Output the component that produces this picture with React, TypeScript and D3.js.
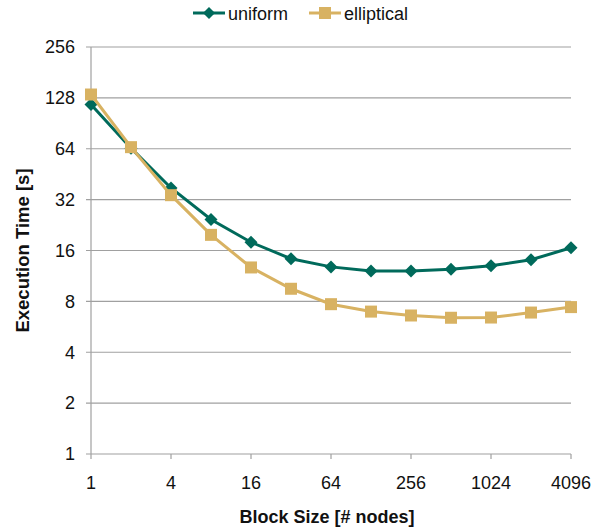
import * as d3 from "d3";

const blockSizes = [1, 2, 4, 8, 16, 32, 64, 128, 256, 512, 1024, 2048, 4096];
const uniform = [117, 64.5, 37.5, 24.4, 17.9, 14.3, 12.8, 12.1, 12.1, 12.4, 13, 14.1, 16.6];
const elliptical = [134, 65.4, 34, 19.8, 12.7, 9.5, 7.7, 6.96, 6.6, 6.4, 6.42, 6.87, 7.4];
const xTicks = [1, 4, 16, 64, 256, 1024, 4096];
const yTicks = [1, 2, 4, 8, 16, 32, 64, 128, 256];

const W = 593;
const H = 531;
const MARGIN = { top: 47, right: 22, bottom: 77, left: 91 };
const GREEN = "#006a5b";
const GOLD = "#d8b262";
const FONT = "'Liberation Sans', Arial, sans-serif";

export default function App() {
  const boundsWidth = W - MARGIN.left - MARGIN.right;
  const boundsHeight = H - MARGIN.top - MARGIN.bottom;

  const xScale = d3.scaleLog().base(2).domain([1, 4096]).range([0, boundsWidth]);
  const yScale = d3.scaleLog().base(2).domain([1, 256]).range([boundsHeight, 0]);

  const line = d3
    .line<number>()
    .x((_, i) => xScale(blockSizes[i]))
    .y((d) => yScale(d));

  const diamond = (cx: number, cy: number, r: number) =>
    `M${cx},${cy - r}L${cx + r},${cy}L${cx},${cy + r}L${cx - r},${cy}Z`;

  return (
    <svg width={W} height={H} style={{ position: "absolute", left: 0, top: 0 }} fontFamily={FONT}>
      <rect width={W} height={H} fill="#fff" />
      {/* legend */}
      <g transform="translate(0,13)">
        <line x1={193} x2={225} y1={0} y2={0} stroke={GREEN} strokeWidth={3} />
        <path d={diamond(209, 0, 6)} fill={GREEN} />
        <text x={228} y={6.5} fontSize={18} fill="#111">uniform</text>
        <line x1={309} x2={341} y1={0} y2={0} stroke={GOLD} strokeWidth={3} />
        <rect x={319} y={-6} width={12} height={12} fill={GOLD} />
        <text x={344} y={6.5} fontSize={18} fill="#111">elliptical</text>
      </g>
      <g transform={`translate(${MARGIN.left},${MARGIN.top})`}>
        {yTicks.map((t) => (
          <g key={t}>
            <line x1={-5} x2={boundsWidth} y1={yScale(t)} y2={yScale(t)} stroke="#a0a0a0" strokeWidth={1.2} />
            <text x={-16} y={yScale(t)} dy="0.35em" textAnchor="end" fontSize={18} fill="#111">
              {t}
            </text>
          </g>
        ))}
        <line x1={0} x2={0} y1={0} y2={boundsHeight} stroke="#a0a0a0" strokeWidth={1.2} />
        {xTicks.map((t) => (
          <g key={t}>
            <line x1={xScale(t)} x2={xScale(t)} y1={boundsHeight} y2={boundsHeight + 5} stroke="#a0a0a0" strokeWidth={1.2} />
            <text x={xScale(t)} y={boundsHeight + 35} textAnchor="middle" fontSize={18} fill="#111">
              {t}
            </text>
          </g>
        ))}
        <path d={line(uniform) ?? ""} fill="none" stroke={GREEN} strokeWidth={3} />
        {uniform.map((d, i) => (
          <path key={i} d={diamond(xScale(blockSizes[i]), yScale(d), 6.5)} fill={GREEN} />
        ))}
        <path d={line(elliptical) ?? ""} fill="none" stroke={GOLD} strokeWidth={3} />
        {elliptical.map((d, i) => (
          <rect
            key={i}
            x={xScale(blockSizes[i]) - 6}
            y={yScale(d) - 6}
            width={12}
            height={12}
            fill={GOLD}
          />
        ))}
      </g>
      <text x={327} y={523} textAnchor="middle" fontSize={18} fontWeight="bold" fill="#111">
        Block Size [# nodes]
      </text>
      <text
        transform={`translate(29,${MARGIN.top + boundsHeight / 2}) rotate(-90)`}
        textAnchor="middle"
        fontSize={18.5}
        fontWeight="bold"
        fill="#111"
      >
        Execution Time [s]
      </text>
    </svg>
  );
}
